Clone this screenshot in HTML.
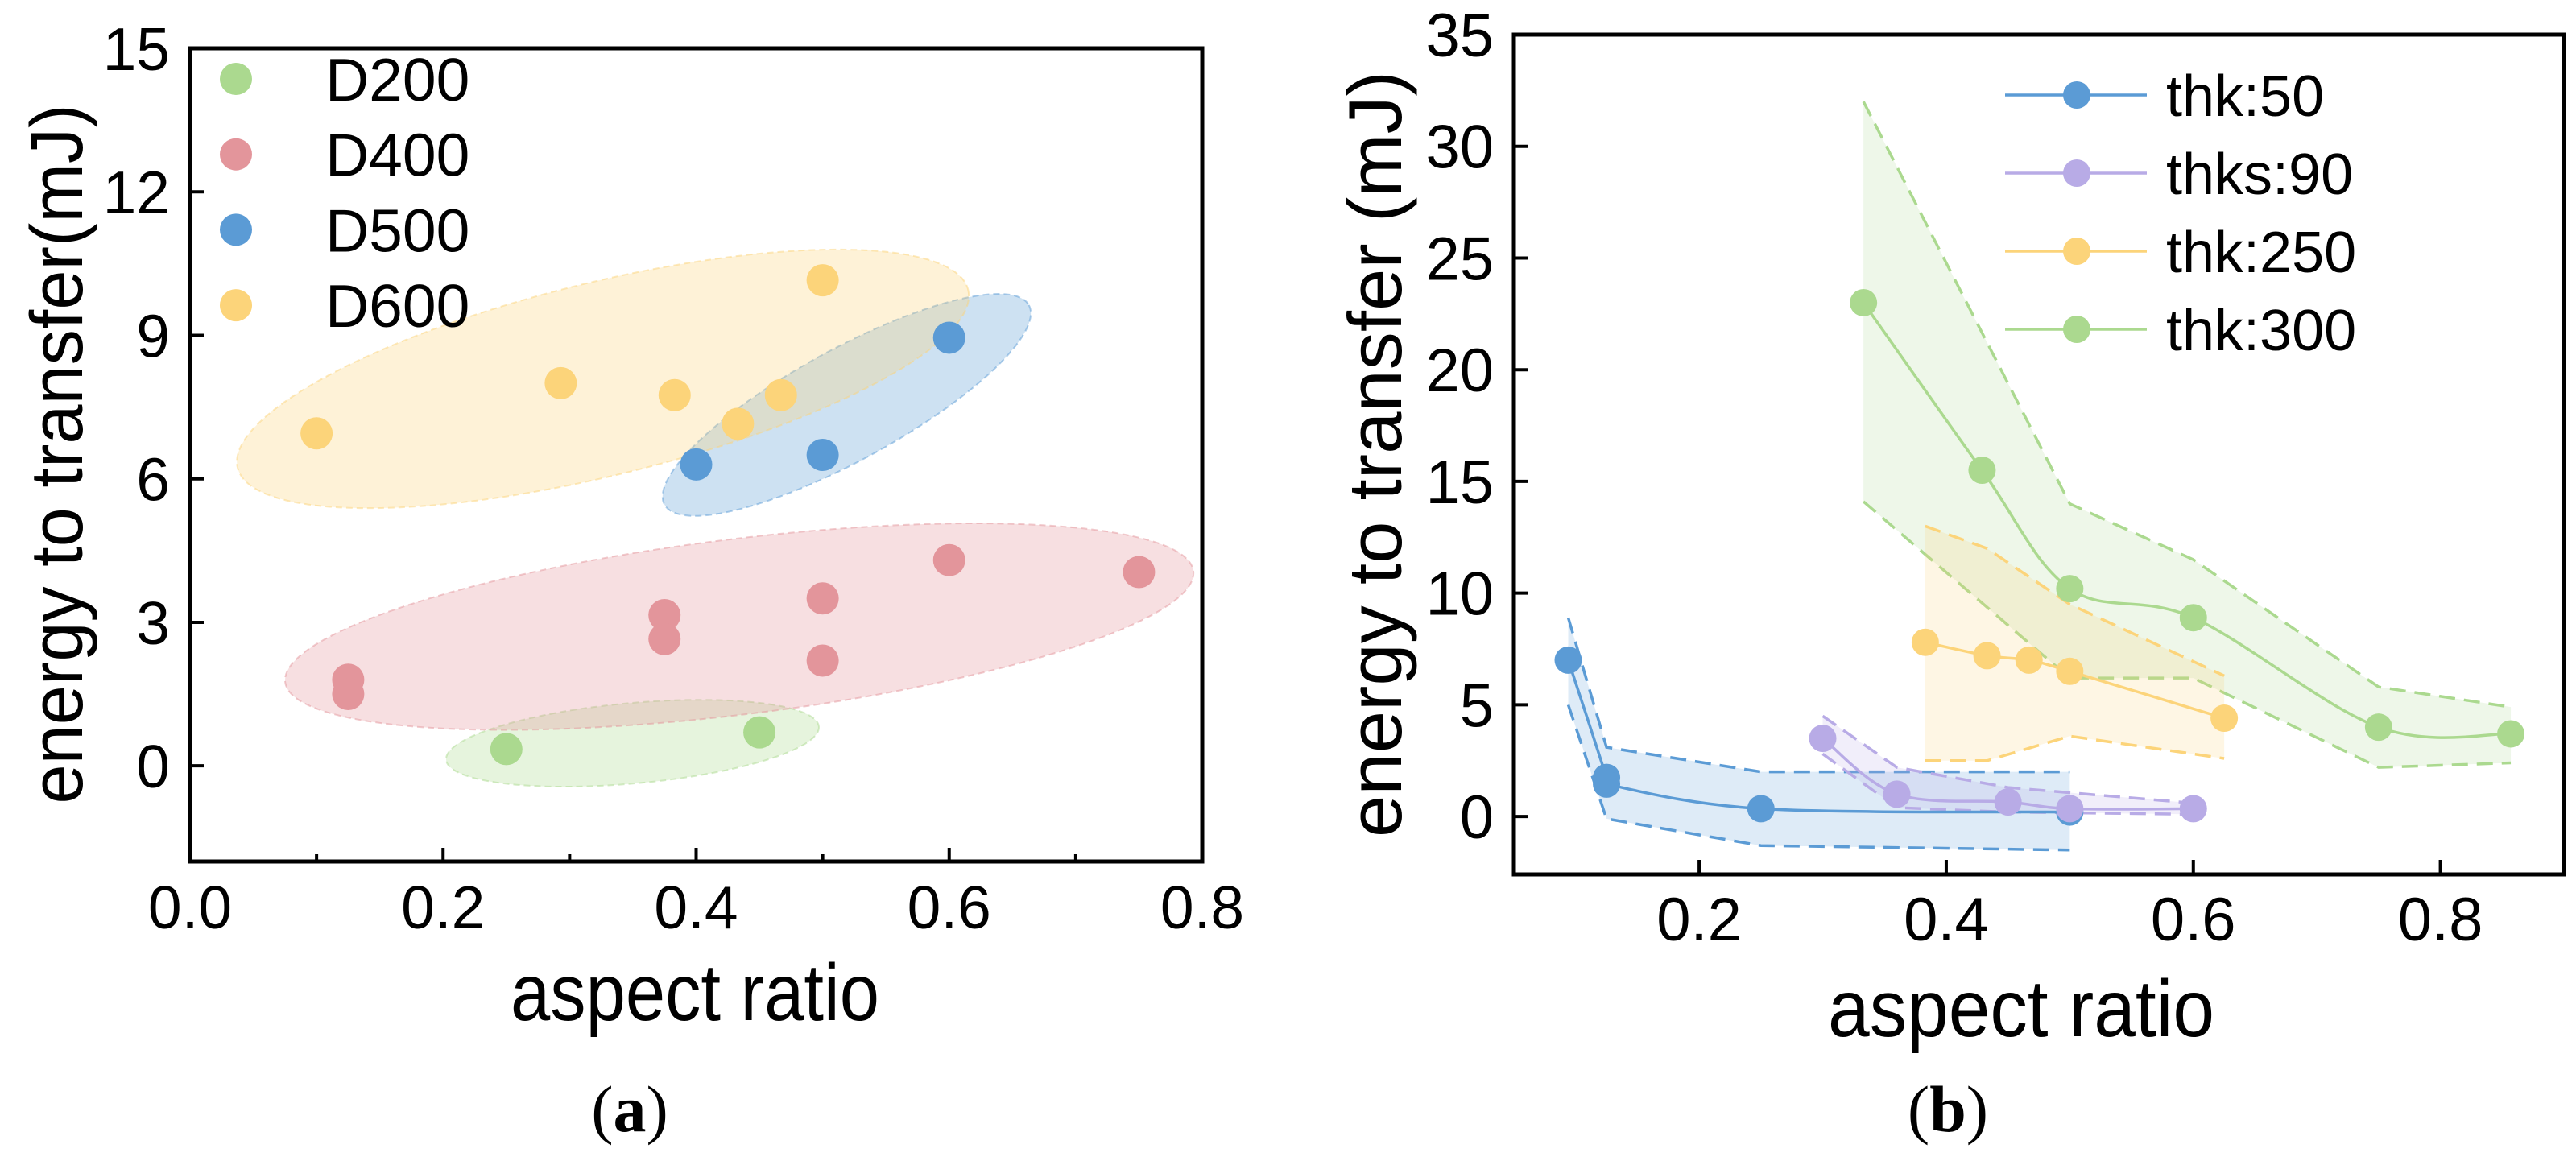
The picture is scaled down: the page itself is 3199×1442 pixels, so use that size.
<!DOCTYPE html>
<html><head><meta charset="utf-8"><style>
html,body{margin:0;padding:0;background:#fff;}
svg{display:block;font-family:"Liberation Sans",sans-serif;}
</style></head><body>
<svg id="fig" width="3199" height="1442" viewBox="0 0 3199 1442" xmlns="http://www.w3.org/2000/svg">
<g id="pa"></g>
<g id="pb"></g>
<text x="782" y="1405" font-family="Liberation Serif,serif" font-size="82" text-anchor="middle">(<tspan font-weight="bold">a</tspan>)</text>
<text x="2419" y="1405" font-family="Liberation Serif,serif" font-size="82" text-anchor="middle">(<tspan font-weight="bold">b</tspan>)</text>
</svg>
<script>
// ---------- Chart A data ----------
const aSeriesNames = ["D200","D400","D500","D600"];
const aColors = ["#abd98f","#e3959b","#5b9bd5","#fcd47a"];
const aX = [[0.25,0.45],[0.125,0.125,0.375,0.375,0.5,0.5,0.6,0.75],[0.4,0.5,0.6],[0.1,0.293,0.383,0.433,0.467,0.5]];
const aY = [[0.35,0.7],[1.8,1.5,3.15,2.65,3.5,2.2,4.3,4.05],[6.3,6.5,8.95],[6.95,8.0,7.75,7.15,7.75,10.15]];
const aEllX1 = [0.2024,0.0752,0.375,0.0376];
const aEllY1 = [0.124,1.75,5.46,6.23];
const aEllX2 = [0.497,0.793,0.663,0.615];
const aEllY2 = [0.82,4.07,9.63,9.95];
const aXTicks = [0,0.2,0.4,0.6,0.8];
const aXTickLabels = ["0.0","0.2","0.4","0.6","0.8"];
const aYTicks = [0,3,6,9,12,15];
// ---------- Chart B data ----------
const bSeriesNames = ["thk:50","thks:90","thk:250","thk:300"];
const bColors = ["#5b9bd5","#b8abe6","#fcd47a","#abd98f"];
const bX = [[0.094,0.125,0.125,0.25,0.5],[0.3,0.36,0.45,0.5,0.6],[0.383,0.433,0.467,0.5,0.625],[0.333,0.429,0.5,0.6,0.75,0.857]];
const bY = [[7.0,1.75,1.45,0.35,0.2],[3.5,1.0,0.65,0.35,0.35],[7.8,7.2,7.0,6.5,4.4],[23.0,15.5,10.2,8.9,4.0,3.7]];
const bBandX = [[0.094,0.125,0.25,0.5],[0.3,0.36,0.45,0.6],[0.383,0.433,0.5,0.625],[0.333,0.5,0.6,0.75,0.857]];
const bUpper = [[8.9,3.1,2.0,2.0],[4.5,2.2,1.3,0.6],[13.0,12.0,9.5,6.3],[32.0,14.0,11.5,5.8,4.9]];
const bLower = [[5.0,-0.1,-1.3,-1.5],[2.8,0.4,0.2,0.1],[2.5,2.5,3.6,2.6],[14.1,6.2,6.2,2.2,2.4]];
const bXTicks = [0.2,0.4,0.6,0.8];
const bXTickLabels = ["0.2","0.4","0.6","0.8"];
const bYTicks = [0,5,10,15,20,25,30,35];

const NS="http://www.w3.org/2000/svg";
function mk(parent,tag,attrs,text){const e=document.createElementNS(NS,tag);for(const k in attrs)e.setAttribute(k,attrs[k]);if(text!==undefined)e.textContent=text;parent.appendChild(e);return e;}

// ===== Chart A =====
(function(){
  const g=document.getElementById('pa');
  const L=236,R=1493,T=60,B=1070,xmin=0,xmax=0.8,ymin=-2,ymax=15;
  const sx=v=>L+(v-xmin)/(xmax-xmin)*(R-L);
  const sy=v=>B-(v-ymin)/(ymax-ymin)*(B-T);
  const minorB=[50,109,69,120];
  for(let i=0;i<aEllX1.length;i++){
    const x1=sx(aEllX1[i]),y1=sy(aEllY1[i]),x2=sx(aEllX2[i]),y2=sy(aEllY2[i]);
    const cx=(x1+x2)/2,cy=(y1+y2)/2,a=Math.hypot(x2-x1,y2-y1)/2,ang=Math.atan2(y2-y1,x2-x1)*180/Math.PI;
    const e=mk(g,'ellipse',{cx:cx,cy:cy,rx:a,ry:minorB[i],transform:`rotate(${ang} ${cx} ${cy})`,fill:aColors[i],'fill-opacity':0.3,stroke:aColors[i],'stroke-opacity':0.5,'stroke-width':2,'stroke-dasharray':'8 5'});
    
    
  }
  for(let s=0;s<aX.length;s++){
    for(let j=0;j<aX[s].length;j++){
      const c=mk(g,'circle',{cx:sx(aX[s][j]),cy:sy(aY[s][j]),r:20,fill:aColors[s]});
      
      
    }
  }
  const ax=mk(g,'rect',{x:L,y:T,width:R-L,height:B-T,fill:'none',stroke:'#000','stroke-width':5});
  
  
  for(let i=0;i<aXTicks.length;i++){
    const x=sx(aXTicks[i]);
    mk(g,'line',{x1:x,x2:x,y1:B,y2:B-17,stroke:'#000','stroke-width':4});
    const t=mk(g,'text',{x:x,y:1153,'font-size':75,'text-anchor':'middle'},aXTickLabels[i]);
    
    
    if(i<aXTicks.length-1){const xm=sx(aXTicks[i]+0.1);mk(g,'line',{x1:xm,x2:xm,y1:B,y2:B-9,stroke:'#000','stroke-width':4});}
  }
  for(let i=0;i<aYTicks.length;i++){
    const y=sy(aYTicks[i]);
    mk(g,'line',{x1:L,x2:L+17,y1:y,y2:y,stroke:'#000','stroke-width':4});
    const t=mk(g,'text',{x:211,y:y+27,'font-size':75,'text-anchor':'end'},String(aYTicks[i]));
    
    
  }
  for(let s=0;s<aSeriesNames.length;s++){
    const y=98+s*93.7;
    const c=mk(g,'circle',{cx:293,cy:y,r:20,fill:aColors[s]});
    
    
    const t=mk(g,'text',{x:404,y:y+27,'font-size':75},aSeriesNames[s]);
    
    
  }
  const xt=mk(g,'text',{x:634,y:1267,'font-size':100,textLength:458,lengthAdjust:'spacingAndGlyphs'},'aspect ratio');
  
  
  const yt=mk(g,'text',{x:0,y:0,'font-size':92,textLength:869,lengthAdjust:'spacingAndGlyphs','text-anchor':'middle',transform:'translate(102 564) rotate(-90)'},'energy to transfer(mJ)');
  
  
})();

// ===== Chart B =====
(function(){
  const g=document.getElementById('pb');
  const L=1880,R=3184,T=43,B=1086,xmin=0.05,xmax=0.9,ymin=-2.59,ymax=35;
  const sx=v=>L+(v-xmin)/(xmax-xmin)*(R-L);
  const sy=v=>B-(v-ymin)/(ymax-ymin)*(B-T);
  function smooth(pts){
    if(pts.length<3) return 'M'+pts.map(p=>p.join(',')).join('L');
    let d='M'+pts[0][0]+','+pts[0][1];
    for(let i=0;i<pts.length-1;i++){
      const p0=pts[Math.max(0,i-1)],p1=pts[i],p2=pts[i+1],p3=pts[Math.min(pts.length-1,i+2)];
      const c1=[p1[0]+(p2[0]-p0[0])/6,p1[1]+(p2[1]-p0[1])/6];
      const c2=[p2[0]-(p3[0]-p1[0])/6,p2[1]-(p3[1]-p1[1])/6];
      d+=`C${c1[0]},${c1[1]} ${c2[0]},${c2[1]} ${p2[0]},${p2[1]}`;
    }
    return d;
  }
  const order=[3,2,0,1];
  for(const s of order){
    const up=bBandX[s].map((x,j)=>[sx(x),sy(bUpper[s][j])]);
    const lo=bBandX[s].map((x,j)=>[sx(x),sy(bLower[s][j])]);
    const poly=up.concat(lo.slice().reverse());
    const band=mk(g,'path',{d:'M'+poly.map(p=>p.join(',')).join('L')+'Z',fill:bColors[s],'fill-opacity':0.2,stroke:'none'});
    
    
    for(const arr of [up,lo]){
      const ln=mk(g,'path',{d:'M'+arr.map(p=>p.join(',')).join('L'),fill:'none',stroke:bColors[s],'stroke-width':3.5,'stroke-dasharray':'20 11'});
      
      
    }
  }
  for(const s of order){
    const pts=bX[s].map((x,j)=>[sx(x),sy(bY[s][j])]);
    const ln=mk(g,'path',{d:smooth(pts),fill:'none',stroke:bColors[s],'stroke-width':3.5});
    
    
    for(const p of pts){
      const c=mk(g,'circle',{cx:p[0],cy:p[1],r:17,fill:bColors[s]});
      
      
    }
  }
  const ax=mk(g,'rect',{x:L,y:T,width:R-L,height:B-T,fill:'none',stroke:'#000','stroke-width':5});
  
  
  for(let i=0;i<bXTicks.length;i++){
    const x=sx(bXTicks[i]);
    mk(g,'line',{x1:x,x2:x,y1:B,y2:B-18,stroke:'#000','stroke-width':4});
    const t=mk(g,'text',{x:x,y:1168,'font-size':76,'text-anchor':'middle'},bXTickLabels[i]);
    
    
  }
  for(let i=0;i<bYTicks.length;i++){
    const y=sy(bYTicks[i]);
    mk(g,'line',{x1:L,x2:L+18,y1:y,y2:y,stroke:'#000','stroke-width':4});
    const t=mk(g,'text',{x:1855,y:y+27,'font-size':76,'text-anchor':'end'},String(bYTicks[i]));
    
    
  }
  for(let s=0;s<bSeriesNames.length;s++){
    const y=118+s*97;
    mk(g,'line',{x1:2490,x2:2666,y1:y,y2:y,stroke:bColors[s],'stroke-width':3.5});
    const c=mk(g,'circle',{cx:2579,cy:y,r:17,fill:bColors[s]});
    
    
    const t=mk(g,'text',{x:2690,y:y+26,'font-size':72},bSeriesNames[s]);
    
    
  }
  const xt=mk(g,'text',{x:2270,y:1287,'font-size':100,textLength:480,lengthAdjust:'spacingAndGlyphs'},'aspect ratio');
  
  
  const yt=mk(g,'text',{x:0,y:0,'font-size':94,textLength:952,lengthAdjust:'spacingAndGlyphs','text-anchor':'middle',transform:'translate(1740 564) rotate(-90)'},'energy to transfer (mJ)');
  
  
})();
</script>
</body></html>
